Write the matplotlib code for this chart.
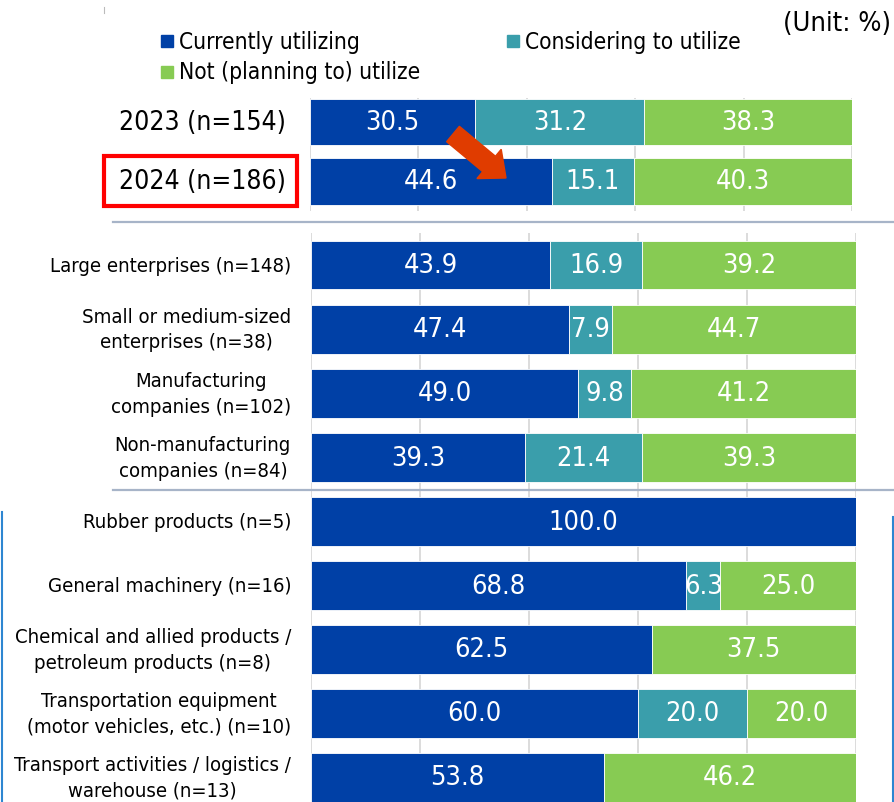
import matplotlib
matplotlib.use('Agg')
import matplotlib.pyplot as plt
import matplotlib.patches as mpatches
from matplotlib.lines import Line2D
from matplotlib.transforms import IdentityTransform

W, H = 895, 803

# Survey results (%)
series_names = ['Currently utilizing', 'Considering to utilize', 'Not (planning to) utilize']
colors = ['#0040A6', '#3A9EAB', '#87CB53']

year_labels = ['2023 (n=154)', '2024 (n=186)']
year_current = [30.5, 44.6]
year_considering = [31.2, 15.1]
year_not = [38.3, 40.3]

size_labels = ['Large enterprises (n=148)', 'Small or medium-sized\nenterprises (n=38)',
               'Manufacturing\ncompanies (n=102)', 'Non-manufacturing\ncompanies (n=84)']
size_current = [43.9, 47.4, 49.0, 39.3]
size_considering = [16.9, 7.9, 9.8, 21.4]
size_not = [39.2, 44.7, 41.2, 39.3]

industry_labels = ['Rubber products (n=5)', 'General machinery (n=16)',
                   'Chemical and allied products /\npetroleum products (n=8)',
                   'Transportation equipment\n(motor vehicles, etc.) (n=10)',
                   'Transport activities / logistics /\nwarehouse (n=13)']
industry_current = [100.0, 68.8, 62.5, 60.0, 53.8]
industry_considering = [0.0, 6.3, 0.0, 20.0, 0.0]
industry_not = [0.0, 25.0, 37.5, 20.0, 46.2]

FONT = dict(family='DejaVu Sans', fontstretch='condensed')

fig = plt.figure(figsize=(W / 100, H / 100), dpi=100)


def px_axes(x0, x1, y0, y1, c0, pitch):
    ax = fig.add_axes([x0 / W, 1 - y1 / H, (x1 - x0) / W, (y1 - y0) / H])
    ax.set_xlim(0, 100)
    ax.set_ylim((y1 - c0) / pitch, (y0 - c0) / pitch)
    for s in ax.spines.values():
        s.set_visible(False)
    ax.set_xticks([0, 20, 40, 60, 80, 100])
    ax.tick_params(length=0, labelbottom=False)
    ax.grid(axis='x', color='#D9D9D9', linewidth=1.3)
    ax.set_axisbelow(True)
    return ax


def draw_panel(ax, labels, cur, con, nots, bh, label_x, label_size, value_size):
    ys = list(range(len(labels)))
    left = [0] * len(labels)
    for vals, col in zip([cur, con, nots], colors):
        bars = ax.barh(ys, vals, left=left, height=bh, color=col,
                       edgecolor='white', linewidth=0.6)
        for b, v in zip(bars, vals):
            if v > 0:
                ax.text(b.get_x() + b.get_width() / 2, b.get_y() + b.get_height() / 2,
                        f'{v:.1f}', ha='center', va='center', color='white',
                        fontsize=value_size, **FONT)
        left = [l + v for l, v in zip(left, vals)]
    ax.set_yticks(ys)
    ax.set_yticklabels([])
    for y, lab in zip(ys, labels):
        ax.annotate(lab, xy=(0, y), xycoords=('axes fraction', 'data'),
                    xytext=(label_x, 0), textcoords='offset pixels',
                    ha='right', va='center', multialignment='center',
                    fontsize=label_size, linespacing=1.42, **FONT)


ax_top = px_axes(310, 852, 99, 212, 123, 59.5)
draw_panel(ax_top, year_labels, year_current, year_considering, year_not,
           0.78, -24, 19, 19.5)

ax_mid = px_axes(311, 856, 234, 490, 266, 64.2)
draw_panel(ax_mid, size_labels, size_current, size_considering, size_not,
           0.76, -20, 14.6, 19.5)

ax_bot = px_axes(311, 856, 492, 803, 522.5, 64)
draw_panel(ax_bot, industry_labels, industry_current, industry_considering,
           industry_not, 0.765, -20, 14.6, 19.5)

# legend drawn by hand
def legend_item(x, y, col, text):
    fig.patches.append(mpatches.Rectangle((x, H - y - 6), 12, 12, color=col,
                                          transform=IdentityTransform()))
    fig.text((x + 18) / W, 1 - y / H, text, ha='left', va='center',
             fontsize=16.3, **FONT)

legend_item(161, 42, colors[0], series_names[0])
legend_item(507, 42, colors[1], series_names[1])
legend_item(161, 73, colors[2], series_names[2])

fig.text(891 / W, 1 - 24 / H, '(Unit: %)', ha='right', va='center',
         fontsize=19.5, **FONT)

# panel separators
for y in (223, 491):
    fig.add_artist(Line2D([113, 893], [H - y, H - y], color='#A7B4C8',
                          linewidth=1.6, transform=IdentityTransform()))

# blue brackets around the industry block
fig.add_artist(Line2D([2, 2], [H - 513, 0], color='#2E86D1', linewidth=1.5,
                      transform=IdentityTransform()))
fig.add_artist(Line2D([893, 893], [H - 518, 0], color='#2E86D1', linewidth=1.5,
                      transform=IdentityTransform()))

# small tick mark top-left
fig.add_artist(Line2D([104, 104], [H - 8, H - 14], color='#BBBBBB', linewidth=0.8,
                      transform=IdentityTransform()))

# highlight box around 2024
fig.patches.append(mpatches.Rectangle((104, H - 207), 193, 50, fill=False,
                                      edgecolor='#FF0000', linewidth=3,
                                      transform=IdentityTransform()))

# arrow showing the increase
fig.patches.append(mpatches.FancyArrow(453, H - 135, 53, -44, width=20,
                                       head_width=38, head_length=22,
                                       length_includes_head=True,
                                       color='#E03C00', transform=IdentityTransform()))

fig.savefig('out.png', dpi=100)
